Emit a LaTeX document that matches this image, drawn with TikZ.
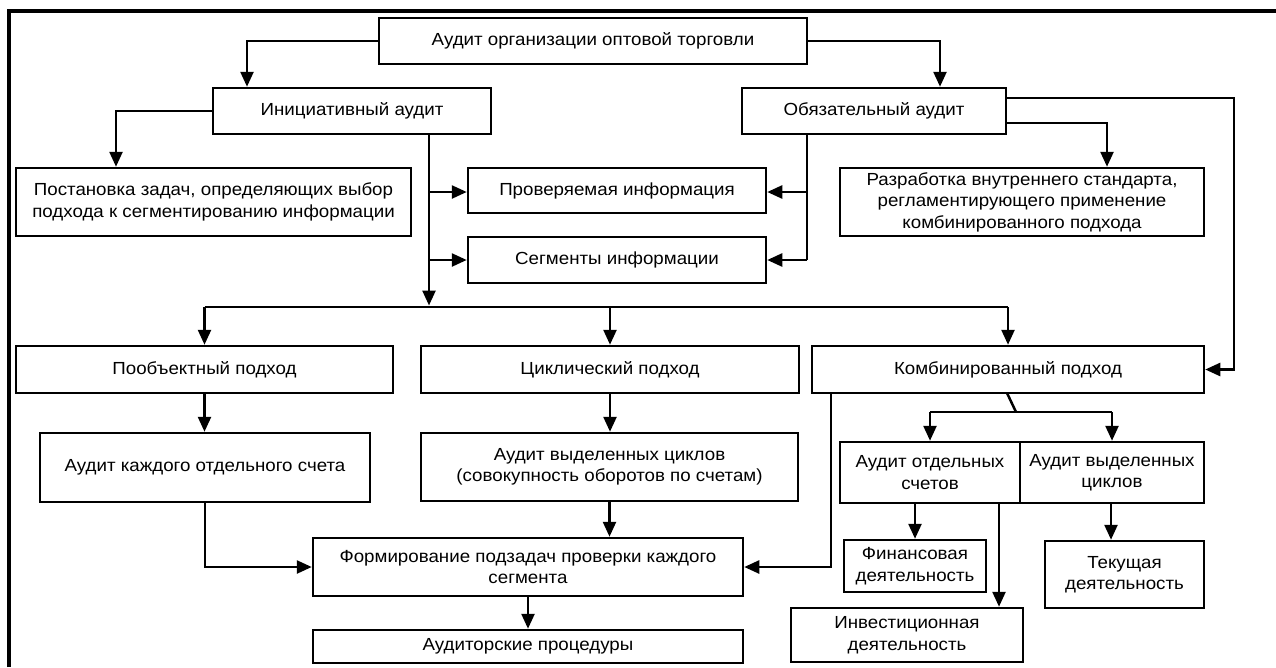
\documentclass[tikz,border=0pt]{standalone}
\usepackage{fontspec}
\setmainfont{Liberation Sans}[FakeStretch=1.07]
\usetikzlibrary{arrows.meta}
\begin{document}
\begin{tikzpicture}[x=1pt,y=-1pt,
  box/.style={draw,line width=2.5pt,align=center,inner sep=0pt,font=\fontsize{17.5}{21.5}\selectfont},
  ln/.style={line width=2.5pt},
  arr/.style={line width=2.5pt,-{Triangle[length=15pt,width=13pt]}}]
\useasboundingbox (0,0) rectangle (1276,667);
\draw[line width=4pt] (9,667) -- (9,11) -- (1276,11);
% boxes
\node[box,minimum width=428pt,minimum height=46pt] (top) at (593,41) {Аудит организации оптовой торговли};
\node[box,minimum width=278pt,minimum height=46pt] (ini) at (352,111) {Инициативный аудит};
\node[box,minimum width=264pt,minimum height=46pt] (obz) at (874,111) {Обязательный аудит};
\node[box,minimum width=395pt,minimum height=68pt] (post) at (213.5,202) {Постановка задач, определяющих выбор\\подхода к сегментированию информации};
\node[box,minimum width=298pt,minimum height=45pt] (prov) at (617,190.5) {Проверяемая информация};
\node[box,minimum width=298pt,minimum height=46pt] (segm) at (617,260) {Сегменты информации};
\node[box,minimum width=364pt,minimum height=68pt] (razr) at (1022,202) {Разработка внутреннего стандарта,\\регламентирующего применение\\комбинированного подхода};
\node[box,minimum width=377pt,minimum height=47pt] (poob) at (204.5,369.5) {Пообъектный подход};
\node[box,minimum width=378pt,minimum height=47pt] (cikl) at (610,369.5) {Циклический подход};
\node[box,minimum width=392pt,minimum height=47pt] (komb) at (1008,369.5) {Комбинированный подход};
\node[box,minimum width=330pt,minimum height=69pt] (kazhd) at (205,467.5) {Аудит каждого отдельного счета};
\node[box,minimum width=377pt,minimum height=68pt] (vydel) at (609.5,467) {Аудит выделенных циклов\\(совокупность оборотов по счетам)};
\node[box,minimum width=180pt,minimum height=61pt] (otdsch) at (930,472.5) {Аудит отдельных\\счетов};
\node[box,minimum width=184pt,minimum height=61pt] (vydc) at (1112,472.5) {Аудит выделенных\\циклов};
\node[box,minimum width=430pt,minimum height=58pt] (form) at (528,567) {Формирование подзадач проверки каждого\\сегмента};
\node[box,minimum width=142pt,minimum height=52pt] (fin) at (915,566) {Финансовая\\деятельность};
\node[box,minimum width=159pt,minimum height=67pt] (tek) at (1124.5,574.5) {Текущая\\деятельность};
\node[box,minimum width=232pt,minimum height=54pt] (inv) at (907,635) {Инвестиционная\\деятельность};
\node[box,minimum width=430pt,minimum height=33pt] (aud) at (528,646.5) {Аудиторские процедуры};
% turn points
\coordinate (ta) at (247,0);
\coordinate (tb) at (940,0);
\coordinate (tc) at (116,0);
\coordinate (jn) at (429,307);
\coordinate (jo) at (807,260);
\coordinate (r1) at (1234,98);
\coordinate (r2) at (1107,123);
\coordinate (k1) at (831,0);
\coordinate (s1) at (1007,393);
\coordinate (s2) at (1016,412);
\coordinate (iv) at (999,0);
\coordinate (tk) at (1111,0);
% connectors
\draw[arr] (top.west) -| (ini.north -| ta);
\draw[arr] (top.east) -| (obz.north -| tb);
\draw[arr] (ini.west) -| (post.north -| tc);
\draw[arr] (ini.south -| jn) -- ([yshift=1.5pt]jn);
\draw[arr] (jn |- 0,192) -- (prov.west |- 0,192);
\draw[arr] (jn |- segm.west) -- (segm.west);
\draw[ln] (poob.north |- jn) -- (komb.north |- jn);
\draw[arr] (poob.north |- jn) -- (poob.north);
\draw[arr] (cikl.north |- jn) -- (cikl.north);
\draw[arr] (komb.north |- jn) -- (komb.north);
\draw[ln] (obz.south -| jo) -- (jo);
\draw[arr] (jo |- 0,192) -- (prov.east |- 0,192);
\draw[arr] (jo) -- (segm.east);
\draw[arr] (obz.east |- r1) -- (r1) |- (komb.east);
\draw[arr] (obz.east |- r2) -| (razr.north -| r2);
\draw[arr] (poob.south) -- (poob.south |- kazhd.north);
\draw[arr] (kazhd.south) |- (form.west);
\draw[arr] (cikl.south) -- (cikl.south |- vydel.north);
\draw[arr] (vydel.south) -- (vydel.south |- form.north);
\draw[arr] (komb.south -| k1) |- (form.east);
\draw[arr] (form.south) -- (aud.north);
\draw[ln] (s1) -- (s2);
\draw[ln] (otdsch.north |- s2) -- (vydc.north |- s2);
\draw[arr] (otdsch.north |- s2) -- (otdsch.north);
\draw[arr] (vydc.north |- s2) -- (vydc.north);
\draw[arr] (otdsch.south -| fin.north) -- (fin.north);
\draw[arr] (otdsch.south -| iv) -- (inv.north -| iv);
\draw[arr] (vydc.south -| tk) -- (tek.north -| tk);
\end{tikzpicture}
\end{document}
